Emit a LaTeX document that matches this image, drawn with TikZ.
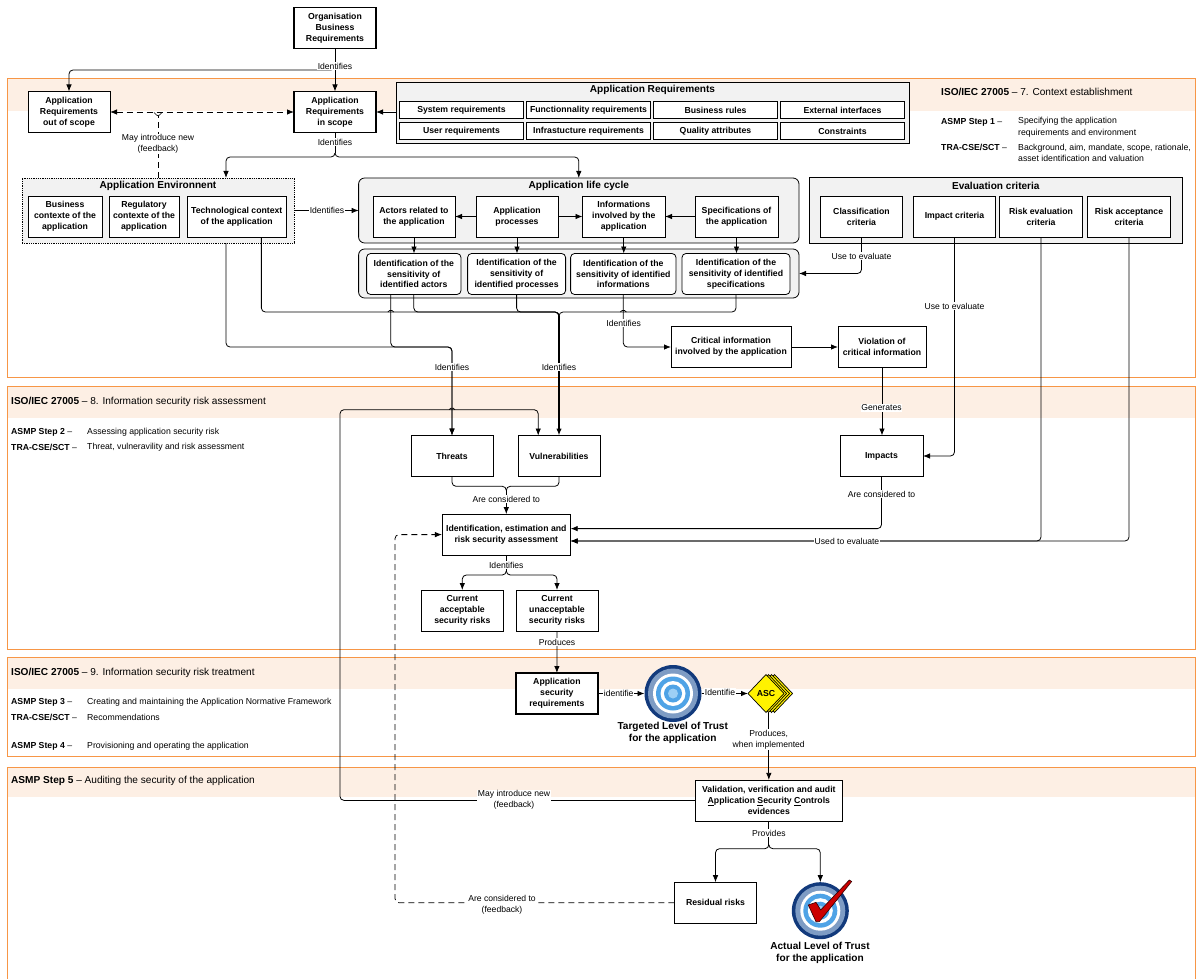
\documentclass[tikz,border=0pt]{standalone}
\usepackage{fontspec}
\setmainfont{Liberation Sans}
\usetikzlibrary{positioning,arrows.meta,shapes.geometric}

\definecolor{framecol}{HTML}{F79646}
\definecolor{bandcol}{HTML}{FDEFE4}
\definecolor{panelcol}{HTML}{F2F2F2}
\definecolor{navyring}{HTML}{123A7C}
\definecolor{hatchring}{HTML}{7E9CC4}
\definecolor{midring}{HTML}{4FA3E6}
\definecolor{paleblue}{HTML}{9CCFF5}

\tikzset{
  box/.style={draw,fill=white,align=center,outer sep=0pt,inner sep=0pt,line width=0.8pt,
    minimum height=41pt,font=\fontsize{8.7}{10.8}\selectfont\bfseries},
  keybox/.style={box,line width=1.4pt},
  reqbox/.style={box,minimum width=123.5pt,minimum height=17pt},
  sensbox/.style={box,rounded corners=4pt},
  panel/.style={draw,fill=panelcol,outer sep=0pt,inner sep=0pt,line width=0.8pt},
  paneltitle/.style={font=\fontsize{10.1}{12}\selectfont\bfseries,align=center},
  lbl/.style={fill=white,inner sep=0.6pt,align=center,font=\fontsize{8.6}{11}\selectfont},
  link/.style={draw,line width=0.8pt,-{Latex[length=7pt,width=5.5pt]},rounded corners=4pt},
  wire/.style={draw,line width=0.8pt,rounded corners=4pt},
  dashlink/.style={link,dashed,dash pattern=on 6pt off 4pt},
  hump/.style={draw,line width=0.7pt,rounded corners=1.5pt},
  heading/.style={anchor=west,inner sep=0pt,font=\fontsize{10.1}{12}\selectfont},
  note/.style={anchor=west,inner sep=0pt,font=\fontsize{8.7}{11.5}\selectfont,align=left},
  ascmark/.style={diamond,draw,fill=yellow,line width=0.7pt,inner sep=0pt,outer sep=0pt,
    minimum width=36pt,minimum height=38pt,font=\fontsize{8.7}{10}\selectfont\bfseries},
  trust/.style={circle,inner sep=0pt,outer sep=0pt,minimum size=57pt},
  bigcap/.style={font=\fontsize{10.1}{12}\selectfont\bfseries,align=center,inner sep=0pt}
}

% rings of the level of trust mark
\newcommand{\trustrings}[1]{
  \fill[navyring] (#1) circle (28.5pt);
  \fill[hatchring] (#1) circle (25pt);
  \fill[white] (#1) circle (20pt);
  \fill[midring] (#1) circle (17pt);
  \fill[white] (#1) circle (12.5pt);
  \fill[midring] (#1) circle (9pt);
  \fill[paleblue] (#1) circle (5pt);
}

\begin{document}
\begin{tikzpicture}[x=1pt,y=-1pt]
  \useasboundingbox (0,0) rectangle (1197,979);

  % sections
  \fill[bandcol] (7,78) rectangle (1195,111);
  \fill[bandcol] (7,386) rectangle (1195,418);
  \fill[bandcol] (7,657) rectangle (1195,689);
  \fill[bandcol] (7,767) rectangle (1195,797);
  \draw[framecol,line width=0.8pt] (7,78) rectangle (1195,377);
  \draw[framecol,line width=0.8pt] (7,386) rectangle (1195,649);
  \draw[framecol,line width=0.8pt] (7,657) rectangle (1195,756);
  \draw[framecol,line width=0.8pt] (7,985) -- (7,767) -- (1195,767) -- (1195,985);

  \node[heading] (headctx) at (941,92) {\textbf{ISO/IEC 27005} -- 7. Context establishment};
  \node[note] (stepa) at (941,122) {\textbf{ASMP Step 1} --};
  \node[note] (stepatxt) at (1018,127.5) {Specifying the application\\requirements and environment};
  \node[note] (traa) at (941,147) {\textbf{TRA-CSE/SCT} --};
  \node[note] (traatxt) at (1018,153) {Background, aim, mandate, scope, rationale,\\asset identification and valuation};

  \node[heading] (headrisk) at (11,402) {\textbf{ISO/IEC 27005} -- 8. Information security risk assessment};
  \node[note] (stepb) at (11,432) {\textbf{ASMP Step 2} --};
  \node[note] (stepbtxt) at (87,432) {Assessing application security risk};
  \node[note] (trab) at (11,447) {\textbf{TRA-CSE/SCT} --};
  \node[note] (trabtxt) at (87,447) {Threat, vulneravility and risk assessment};

  \node[heading] (headtreat) at (11,673) {\textbf{ISO/IEC 27005} -- 9. Information security risk treatment};
  \node[note] (stepc) at (11,702) {\textbf{ASMP Step 3} --};
  \node[note] (stepctxt) at (87,702) {Creating and maintaining the Application Normative Framework};
  \node[note] (trac) at (11,717) {\textbf{TRA-CSE/SCT} --};
  \node[note] (tractxt) at (87,717) {Recommendations};
  \node[note] (stepd) at (11,746) {\textbf{ASMP Step 4} --};
  \node[note] (stepdtxt) at (87,746) {Provisioning and operating the application};

  \node[heading] (headaudit) at (11,781) {\textbf{ASMP Step 5} -- Auditing the security of the application};

  % requirements
  \node[keybox,minimum width=82pt] (org) at (335,28) {Organisation\\Business\\Requirements};
  \node[keybox,minimum width=82pt,below=43pt of org] (inscope) {Application\\Requirements\\in scope};
  \node[box,minimum width=82pt,left=184pt of inscope] (outscope) {Application\\Requirements\\out of scope};

  \node[panel,minimum width=513pt,minimum height=61pt] (reqpanel) at (652.5,112.5) {};
  \node[paneltitle] (reqtitle) at (652.5,90) {Application Requirements};
  \node[reqbox] (sysreq) at (461.5,110) {System requirements};
  \node[reqbox,right=3.5pt of sysreq] (funcreq) {Functionnality requirements};
  \node[reqbox,right=3.5pt of funcreq] (rules) {Business rules};
  \node[reqbox,right=3.5pt of rules] (extif) {External interfaces};
  \node[reqbox,below=4pt of sysreq] (userreq) {User requirements};
  \node[reqbox,right=3.5pt of userreq] (infreq) {Infrastucture requirements};
  \node[reqbox,right=3.5pt of infreq] (quality) {Quality attributes};
  \node[reqbox,right=3.5pt of quality] (constr) {Constraints};

  % environment
  \node[panel,densely dotted,minimum width=272pt,minimum height=65pt] (envpanel) at (158,210.5) {};
  \node[paneltitle] (envtitle) at (158,186) {Application Environnent};
  \node[box,minimum width=74pt] (business) at (65,216.5) {Business\\contexte of the\\application};
  \node[box,minimum width=70pt,right=7pt of business] (regul) {Regulatory\\contexte of the\\application};
  \node[box,minimum width=98.5pt,right=8.5pt of regul] (tech) {Technological context\\of the application};

  % life cycle
  \node[panel,rounded corners=6pt,minimum width=440.4pt,minimum height=65pt] (cyclepanel) at (578.8,210.5) {};
  \node[paneltitle] (cycletitle) at (578.8,186) {Application life cycle};
  \node[box,minimum width=82pt] (actors) at (414,216.5) {Actors related to\\the application};
  \node[box,minimum width=82pt,right=21pt of actors] (procs) {Application\\processes};
  \node[box,minimum width=82.5pt,right=24.5pt of procs] (infos) {Informations\\involved by the\\application};
  \node[box,minimum width=83pt,right=30pt of infos] (specs) {Specifications of\\the application};

  \node[panel,rounded corners=6pt,minimum width=440.4pt,minimum height=49pt] (senspanel) at (578.8,273.5) {};
  \node[sensbox,minimum width=94.4pt] (sensa) at (413.8,274) {Identification of the\\sensitivity of\\identified actors};
  \node[sensbox,minimum width=98pt,right=6.6pt of sensa] (sensb) {Identification of the\\sensitivity of\\identified processes};
  \node[sensbox,minimum width=105.4pt,right=5pt of sensb] (sensc) {Identification of the\\sensitivity of identified\\informations};
  \node[sensbox,minimum width=108pt,right=6pt of sensc] (sensd) {Identification of the\\sensitivity of identified\\specifications};

  % evaluation criteria
  \node[panel,minimum width=373.5pt,minimum height=66pt] (evalpanel) at (995.8,210) {};
  \node[paneltitle] (evaltitle) at (995.8,186) {Evaluation criteria};
  \node[box,minimum width=82.5pt] (classif) at (861.5,216.5) {Classification\\criteria};
  \node[box,minimum width=82.5pt,right=10.5pt of classif] (impcrit) {Impact criteria};
  \node[box,minimum width=82.5pt,right=4pt of impcrit] (riskeval) {Risk evaluation\\criteria};
  \node[box,minimum width=82.5pt,right=5.5pt of riskeval] (riskacc) {Risk acceptance\\criteria};

  \node[box,minimum width=120pt] (critical) at (731,347) {Critical information\\involved by the application};
  \node[keybox,line width=1pt,minimum width=88pt,right=47pt of critical] (violation) {Violation of\\critical information};

  % assessment
  \node[box,minimum width=82pt] (threats) at (452,456) {Threats};
  \node[box,minimum width=82pt,right=25pt of threats] (vulns) {Vulnerabilities};
  \node[box,minimum width=83pt] (impacts) at (881.5,456) {Impacts};
  \node[box,minimum width=128.7pt] (assess) at (506.3,534.6) {Identification, estimation and\\risk security assessment};
  \node[box,minimum width=82pt] (accept) at (462.3,610.5) {Current\\acceptable\\security risks};
  \node[box,minimum width=82pt,right=12.7pt of accept] (unaccept) {Current\\unacceptable\\security risks};

  % treatment
  \node[keybox,minimum width=82pt] (appsec) at (556.9,693.5) {Application\\security\\requirements};
  \node[trust] (targeted) at (673,693.5) {};
  \trustrings{targeted}
  \node[bigcap] (targetedcap) at (672.7,732.5) {Targeted Level of Trust\\for the application};
  \foreach \dx/\nm in {8.5/c,5.5/b,2.5/a}
    \node[ascmark] (asc\nm) at (766+\dx,693.5) {};
  \node[ascmark] (asc) at (766,693.5) {ASC};

  % audit
  \node[box,minimum width=147.7pt] (valid) at (768.85,800.4) {Validation, verification and audit\\\underline{A}pplication \underline{S}ecurity \underline{C}ontrols\\evidences};
  \node[box,minimum width=82.4pt] (residual) at (715.5,902.7) {Residual risks};
  \node[trust] (actual) at (820.3,910.7) {};
  \trustrings{actual}
  \draw[fill=red!80!black,draw=black!80!red,line width=0.6pt] (808.3,905) -- (816,902.3) -- (820.7,910) -- (849.3,880) -- (851.7,881.5) -- (819.3,921.7) -- (816,921.7) -- cycle;
  \node[bigcap] (actualcap) at (820,952.5) {Actual Level of Trust\\for the application};

  % forks of the connectors
  \coordinate (orgfork) at (335,66);
  \coordinate (scopefork) at (335,153);
  \coordinate (busfork) at (559,312);
  \coordinate (busstem) at (559,316);
  \coordinate (threatfork) at (452,347);
  \coordinate (feedturn) at (340,409.7);
  \coordinate (consfork) at (506.3,486.3);
  \coordinate (consstem) at (506.3,490.3);
  \coordinate (idfork) at (506.3,571);
  \coordinate (provfork) at (768.85,844.7);
  \coordinate (dashturn) at (395,534.6);
  \coordinate (oosfork) at (158,116.5);

  % top of the diagram
  \draw[link] (org) -- (inscope);
  \draw[link] (orgfork) -- ++(0,4) -| (outscope.north);
  \draw[link] (reqpanel.west |- inscope) -- (inscope);
  \draw[dashlink,{Latex[length=7pt,width=5.5pt]}-{Latex[length=7pt,width=5.5pt]}] (outscope) -- (inscope);
  \draw[wire,dashed,dash pattern=on 6pt off 4pt] (envpanel.north) -- (oosfork);
  \draw[hump,rounded corners=2pt] (154,112.5) -- (oosfork) -- (162,112.5);
  \draw[wire] (inscope) -- (scopefork);
  \draw[link] (scopefork) -- ++(0,4) -| ([xshift=68pt]envpanel.north);
  \draw[link] (scopefork) -- ++(0,4) -| (cyclepanel.north);
  \draw[link] (envpanel) -- (cyclepanel);
  \draw[link] (procs) -- (actors);
  \draw[link] (procs) -- (infos);
  \draw[link] (specs) -- (infos);
  \foreach \from/\to in {actors/sensa,procs/sensb,infos/sensc,specs/sensd}
    \draw[link] (\from.south) -- (\from.south |- \to.north);
  \draw[link] (classif.south) |- (senspanel.east);

  % sensitivity to threats and vulnerabilities
  \draw[wire] ([xshift=24.6pt]tech.south) |- (busfork) -- (busstem);
  \foreach \from in {sensa,sensb,sensd}
    \draw[wire] (\from.south) |- (busfork) -- (busstem);
  \draw[link,line width=1.5pt] (busstem) -- (busstem |- vulns.north);
  \draw[link] ([xshift=68pt]envpanel.south) |- (threatfork) -- (threats.north);
  \draw[link] ([xshift=-23pt]sensa.south) |- (threatfork) -- (threats.north);
  \draw[link] (sensc.south) |- (critical.west);
  \draw[link] (critical) -- (violation);
  \draw[link] (violation.south) -- (violation.south |- impacts.north);
  \foreach \x/\y in {390.8/312,623.3/312,452/409.7}
    \draw[hump] (\x-3,\y) -- (\x,\y-2.5) -- (\x+3,\y);

  % criteria
  \draw[link] (impcrit.south) |- (impacts.east);
  \draw[link] (riskeval.south) |- ([yshift=-6.4pt]assess.east);
  \draw[link] (riskacc.south) |- ([yshift=-6.4pt]assess.east);
  \draw[link] (impacts.south) |- ([yshift=6pt]assess.east);

  % assessment
  \draw[wire] (threats.south) |- (consfork) -- (consstem);
  \draw[wire] (vulns.south) |- (consfork) -- (consstem);
  \draw[link] (consstem) -- (assess.north);
  \draw[wire] (assess.south) -- (idfork);
  \draw[link] (idfork) -- ++(0,4) -| (accept.north);
  \draw[link] (idfork) -- ++(0,4) -| (unaccept.north);
  \draw[link] (unaccept.south) -- (appsec.north);
  \draw[link] (appsec) -- (targeted);
  \draw[link] (targeted) -- (asc);
  \draw[link] (asc.south -| valid.north) -- (valid.north);

  % feedback and audit
  \draw[link] (valid.west) -| (feedturn) -| ([xshift=-20.8pt]vulns.north);
  \draw[wire] (valid.south) -- (provfork);
  \draw[link] (provfork) -- ++(0,4) -| (residual.north);
  \draw[link] (provfork) -- ++(0,4) -| (actual.north);
  \draw[dashlink] (residual.west) -| (dashturn) -- (assess.west);

  % labels of the connectors
  \node[lbl] (lorg) at (335,66) {Identifies};
  \node[lbl] (lfeeda) at (158,144) {May introduce new\\(feedback)};
  \node[lbl] (lscope) at (335,142) {Identifies};
  \node[lbl] (lenv) at (327,210.5) {Identifies};
  \node[lbl] (lclass) at (861.5,256) {Use to evaluate};
  \node[lbl] (limpact) at (954.5,306) {Use to evaluate};
  \node[lbl] (lcrit) at (623.7,323) {Identifies};
  \node[lbl] (lthreat) at (452,367) {Identifies};
  \node[lbl] (lvuln) at (559,367) {Identifies};
  \node[lbl] (lgen) at (881.5,408) {Generates};
  \node[lbl] (lcons) at (506.3,499) {Are considered to};
  \node[lbl] (limpcons) at (881.5,494) {Are considered to};
  \node[lbl] (lused) at (847,541) {Used to evaluate};
  \node[lbl] (lassess) at (506.3,565) {Identifies};
  \node[lbl] (lprod) at (557,642) {Produces};
  \node[lbl] (lappsec) at (618.7,693.5) {identifie};
  \node[lbl] (ltarget) at (720,692) {Identifie};
  \node[lbl] (lasc) at (768.7,739.5) {Produces,\\when implemented};
  \node[lbl] (lfeedb) at (514,800) {May introduce new\\(feedback)};
  \node[lbl] (lprov) at (768.85,833) {Provides};
  \node[lbl] (lresid) at (502,905) {Are considered to\\(feedback)};
\end{tikzpicture}
\end{document}
